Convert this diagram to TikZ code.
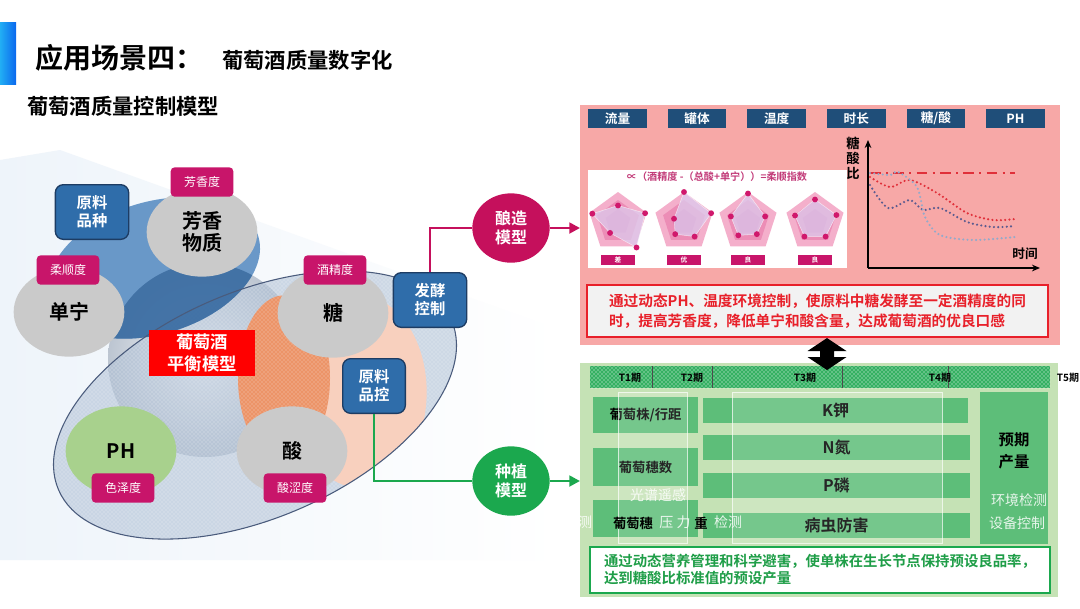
\documentclass[tikz,border=0pt]{standalone}
\usepackage{fontspec}
\setmainfont{Noto Sans CJK SC}[BoldFont={Noto Sans CJK SC Bold}]
\usetikzlibrary{shapes.geometric,patterns,arrows.meta,positioning}

\definecolor{barcyan}{HTML}{22AEF4}
\definecolor{barblue}{HTML}{0A68EE}
\definecolor{wash}{HTML}{EEF4FA}
\definecolor{spheredark}{HTML}{BCC5D1}
\definecolor{ellgray}{HTML}{AFC0D5}
\definecolor{elledge}{HTML}{4A5B7C}
\definecolor{peach}{HTML}{F8D0BE}
\definecolor{orangeball}{HTML}{EC9468}
\definecolor{leafblue}{HTML}{5288C0}
\definecolor{leafdark}{HTML}{2E5E92}
\definecolor{ballgray}{HTML}{CACACA}
\definecolor{greenball}{HTML}{A8D18D}
\definecolor{attrmag}{HTML}{C8156A}
\definecolor{boxblue}{HTML}{2F6DAA}
\definecolor{boxedge}{HTML}{1D3C63}
\definecolor{brewmag}{HTML}{C5105C}
\definecolor{plantgreen}{HTML}{1BA84E}
\definecolor{panelred}{HTML}{F7A8A7}
\definecolor{headblue}{HTML}{1F4E79}
\definecolor{pinka}{HTML}{F4AFCB}
\definecolor{pinkb}{HTML}{EC8DB6}
\definecolor{pinkc}{HTML}{E07BAE}
\definecolor{lavender}{HTML}{DCCBEE}
\definecolor{dotmag}{HTML}{D0186C}
\definecolor{formulapink}{HTML}{C23A78}
\definecolor{curvered}{HTML}{E0303A}
\definecolor{curvepurple}{HTML}{5B5B8F}
\definecolor{curveblue}{HTML}{93AACB}
\definecolor{notered}{HTML}{E8202A}
\definecolor{notebg}{HTML}{F2F2F2}
\definecolor{panelgreen}{HTML}{C5E2B5}
\definecolor{tgreen}{HTML}{35B062}
\definecolor{boxgreen}{HTML}{5DBE79}
\definecolor{notegreen}{HTML}{1F9E48}

\tikzset{
    ball/.style={ellipse,fill=ballgray,inner sep=0pt,minimum width=83pt,minimum height=67pt,align=center,font=\fontsize{15}{17}\selectfont\bfseries},
    attrtag/.style={rounded corners=3pt,fill=attrmag,text=white,minimum width=47pt,minimum height=22pt,inner sep=0pt,font=\fontsize{9}{10}\selectfont},
    bluebox/.style={rounded corners=6pt,draw=boxedge,line width=1pt,fill=boxblue,text=white,align=center,minimum width=55pt,minimum height=41pt,inner sep=0pt,font=\fontsize{11.5}{13.5}\selectfont\bfseries},
    model/.style={ellipse,fill=#1,text=white,align=center,minimum width=58pt,minimum height=52pt,inner sep=0pt,font=\fontsize{12}{14}\selectfont\bfseries},
    link/.style={draw=#1,line width=2pt},
    panel/.style={inner sep=0pt,outer sep=0pt},
    head/.style={fill=headblue,text=white,minimum width=44pt,minimum height=14pt,inner sep=0pt,font=\fontsize{9.5}{10}\selectfont\bfseries},
    grade/.style={fill=attrmag,text=white,minimum width=26pt,minimum height=7.5pt,inner sep=0pt,font=\fontsize{5}{5}\selectfont\bfseries},
    datapoly/.style={fill=lavender,fill opacity=0.75,draw=white,draw opacity=0.6,line width=0.4pt},
    trend/.style={line width=1.8pt,dash pattern=on 0pt off 3.2pt,line cap=round,#1},
    axis/.style={line width=1.2pt,-{Stealth[length=6pt,width=5pt]}},
    note/.style={line width=1.5pt,align=left,inner sep=0pt,font=\fontsize{11}{15}\selectfont\bfseries},
    gbox/.style={fill=boxgreen,inner sep=0pt,font=\fontsize{12}{14}\selectfont\bfseries},
    tlabel/.style={inner sep=0pt,font=\fontsize{7.5}{8}\selectfont\bfseries},
    ghost/.style={text=white,text opacity=0.85,inner sep=0pt,font=\fontsize{10.5}{12}\selectfont},
    strip/.style={fill=white,fill opacity=0.15,draw=white,draw opacity=0.45,line width=0.5pt}
}

\begin{document}
\begin{tikzpicture}[x=0.75pt,y=-0.75pt]
  \useasboundingbox (0,0) rectangle (1080,608);
  \fill[white] (0,0) rectangle (1080,608);

  % Title
  \shade[left color=barcyan,right color=barblue] (0,22) rectangle (16,84);
  \node[anchor=west,inner sep=0pt,font=\fontsize{21}{24}\selectfont\bfseries] (title) at (35,58) {应用场景四：};
  \node[anchor=west,inner sep=0pt,font=\fontsize{16}{18}\selectfont\bfseries] (subtitle) at (222,60) {葡萄酒质量数字化};
  \node[anchor=west,inner sep=0pt,font=\fontsize{16}{18}\selectfont\bfseries] (section) at (27,106) {葡萄酒质量控制模型};

  % Venn background
  \shade[left color=wash,right color=white] (0,160) -- (60,150) -- (560,330) -- (560,560) -- (0,560) -- cycle;
  \shade[inner color=white,outer color=spheredark] (205,360) circle (72.75pt);
  \fill[ellgray,fill opacity=0.6,shift={(255,405)},rotate=23.4,postaction={pattern=crosshatch dots,pattern color=white}] (0,0) ellipse [x radius=160.5pt,y radius=84.75pt];
  \begin{scope}
    \clip[shift={(255,405)},rotate=23.4] (0,0) ellipse [x radius=160.5pt,y radius=84.75pt];
    \fill[peach] (360,392) ellipse [x radius=50pt,y radius=72pt];
  \end{scope}
  \fill[orangeball,postaction={pattern=crosshatch dots,pattern color=peach}] (284,378) ellipse [x radius=34.5pt,y radius=62pt];
  \fill[leafblue,fill opacity=0.85,shift={(154,268)},rotate=17] (0,0) ellipse [x radius=81.75pt,y radius=49.5pt];
  \begin{scope}
    \clip (205,360) circle (72.75pt);
    \fill[leafdark,fill opacity=0.6,shift={(154,268)},rotate=17] (0,0) ellipse [x radius=81.75pt,y radius=49.5pt];
  \end{scope}
  \draw[elledge,line width=0.8pt,shift={(255,405)},rotate=23.4] (0,0) ellipse [x radius=160.5pt,y radius=84.75pt];

  % Factors
  \node[ball] (aroma) at (202,232) {芳香\\物质};
  \node[attrtag] (aromatag) at (202,182) {芳香度};
  \node[ball] (tannin) at (69,312) {单宁};
  \node[attrtag] (tannintag) at (68,270) {柔顺度};
  \node[ball] (sugar) at (333,313) {糖};
  \node[attrtag] (sugartag) at (335,270) {酒精度};
  \node[ball,fill=greenball] (ph) at (121,451) {PH};
  \node[attrtag] (phtag) at (123,488) {色泽度};
  \node[ball] (acid) at (292,451) {酸};
  \node[attrtag] (acidtag) at (295,488) {酸涩度};

  \node[bluebox] (variety) at (92,212) {原料\\品种};
  \node[bluebox,minimum width=47pt] (qc) at (374,386) {原料\\品控};
  \node[bluebox] (ferm) at (430,300) {发酵\\控制};
  \node[fill=red,text=white,align=center,minimum width=80pt,minimum height=35pt,inner sep=0pt,font=\fontsize{13}{16}\selectfont\bfseries] (balance) at (202,353) {葡萄酒\\平衡模型};

  % Panels
  \node[panel,fill=panelred,minimum width=360pt,minimum height=180pt] (redpanel) at (820,225) {};
  \node[panel,fill=panelgreen,minimum width=358.5pt,minimum height=175.5pt] (greenpanel) at (819,480) {};

  % Models and links
  \node[model=brewmag] (brew) at (511,228) {酿造\\模型};
  \node[model=plantgreen] (plant) at (511,481) {种植\\模型};
  \draw[link=brewmag] (ferm.north) |- (brew.west);
  \draw[link=brewmag,-{Triangle[length=8pt,width=8pt]}] (brew.east) -- (brew.east -| redpanel.west);
  \draw[link=plantgreen] (qc.south) |- (plant.west);
  \draw[link=plantgreen,-{Triangle[length=8pt,width=8pt]}] (plant.east) -- (plant.east -| greenpanel.west);

  % Brewing panel
  \foreach \lab [count=\i] in {流量,罐体,温度,时长,糖/酸,PH}
    \node[head] (head\i) at ({617.5+79.6*(\i-1)},118.5) {\lab};

  \node[panel,fill=white,minimum width=194pt,minimum height=73.5pt] (radarpanel) at (717.5,219) {};
  \node[inner sep=0pt,text=formulapink,font=\fontsize{7.6}{8}\selectfont\bfseries] (formula) at (717,177) {∝（酒精度 -（总酸+单宁））=柔顺指数};
  \foreach \cx/\lab/\ra/\rb/\rc/\rd/\re [count=\i] in {618/差/0.55/0.95/1.05/0.45/0.9, 684/优/1.0/0.95/0.6/0.5/0.35, 748/良/0.95/0.6/0.5/0.55/0.6, 815/良/0.75/0.75/0.6/0.6/0.7}{
    \begin{scope}[shift={(\cx,222)}]
      \fill[pinka] (270:30) \foreach \a in {342,54,126,198}{ -- (\a:30)} -- cycle;
      \fill[pinkb] (270:22) \foreach \a in {342,54,126,198}{ -- (\a:22)} -- cycle;
      \fill[pinkc] (270:13) \foreach \a in {342,54,126,198}{ -- (\a:13)} -- cycle;
      \filldraw[datapoly] (270:{30*\ra}) -- (342:{30*\rb}) -- (54:{30*\rc}) -- (126:{30*\rd}) -- (198:{30*\re}) -- cycle;
      \foreach \ang/\f in {270/\ra,342/\rb,54/\rc,126/\rd,198/\re}
        \fill[dotmag] (\ang:{30*\f}) circle (2.2pt);
    \end{scope}
    \node[grade] (grade\i) at (\cx,260) {\lab};
  }

  % Trend chart
  \coordinate (org) at (868,268);
  \coordinate (ytop) at (868,140);
  \coordinate (xend) at (1040,268);
  \draw[axis] (org) -- (ytop);
  \draw[axis] (org) -- (xend);
  \node[align=center,inner sep=0pt,font=\fontsize{10}{11.25}\selectfont\bfseries] (ratio) at (853,158) {糖\\酸\\比};
  \node[inner sep=0pt,font=\fontsize{9.5}{10}\selectfont\bfseries] (timelab) at (1025,254) {时间};
  \draw[curvered,line width=2pt,dash pattern=on 8pt off 4pt on 1.5pt off 4pt] (870,173) -- (1015,173);
  \draw[trend=curvered] plot[smooth] coordinates {(870,177) (890,187) (910,180) (937,193) (967,213) (993,220) (1015,219)};
  \draw[trend=curvepurple] plot[smooth] coordinates {(870,185) (888,208) (910,200) (923,210) (940,208) (967,222) (993,227) (1015,226)};
  \draw[trend=curveblue] plot[smooth] coordinates {(870,173) (890,175) (898,172) (917,187) (925,217) (940,235) (973,240) (1015,237)};

  \node[note,draw=notered,fill=notebg,text=notered,minimum width=345.75pt,minimum height=39pt] (brewnote) at (817.5,311) {通过动态PH、温度环境控制，使原料中糖发酵至一定酒精度的同\\时，提高芳香度，降低单宁和酸含量，达成葡萄酒的优良口感};

  % Planting panel
  \node[panel,fill=tgreen,minimum width=345pt,minimum height=16.5pt,postaction={pattern=crosshatch dots,pattern color=white}] (tbar) at (820,377) {};
  \foreach \x in {652,712,842,948}
    \draw[black!70,line width=0.5pt] (\x,366) -- (\x,388);
  \foreach \x/\t [count=\i] in {630/T1期,692/T2期,805/T3期,940/T4期,1068/T5期}
    \node[tlabel] (t\i) at (\x,378) {\t};

  % Double arrow between the panels
  \fill[black] (827,338) -- (846.5,351) -- (834,351) -- (834,357) -- (846.5,357) -- (827,370)
    -- (807.5,357) -- (820,357) -- (820,351) -- (807.5,351) -- cycle;

  \node[gbox,minimum width=78.75pt,minimum height=27pt,font=\fontsize{10}{12}\selectfont\bfseries] (spacing) at (645.5,415) {葡萄株/行距};
  \node[gbox,minimum width=78.75pt,minimum height=28.5pt,font=\fontsize{10}{12}\selectfont\bfseries] (cluster) at (645.5,467) {葡萄穗数};
  \node[gbox,minimum width=78.75pt,minimum height=28pt] (weight) at (645.5,518.5) {};
  \node[gbox,minimum width=198.75pt,minimum height=18.75pt] (potassium) at (835.5,410.5) {K钾};
  \node[gbox,minimum width=200.25pt,minimum height=18.75pt] (nitrogen) at (836.5,447.5) {N氮};
  \node[gbox,minimum width=200.25pt,minimum height=18.75pt] (phosphor) at (836.5,485.5) {P磷};
  \node[gbox,minimum width=200.25pt,minimum height=18.75pt] (pest) at (836.5,525.5) {病虫防害};
  \node[gbox,minimum width=51pt,minimum height=114pt,align=center,font=\fontsize{11.5}{17}\selectfont\bfseries] (yield) at (1014,468) {预期\\产量\\[10pt]};
  \fill[strip] (618,392) rectangle (687,543);
  \fill[strip] (732,392) rectangle (942,543);
  \draw[strip,fill=none] (618,392) rectangle (687,543);
  \draw[strip,fill=none] (732,392) rectangle (942,543);

  \node[ghost] (spectrum) at (658,495) {光谱遥感};
  \node[ghost] (cutoff) at (585,522) {测};
  \node[inner sep=0pt,font=\fontsize{10}{12}\selectfont\bfseries] (weighta) at (633,523) {葡萄穗};
  \node[ghost] (pressure) at (675,522) {压 力};
  \node[inner sep=0pt,font=\fontsize{10}{12}\selectfont\bfseries] (weightb) at (701,523) {重};
  \node[ghost] (detect) at (728,522) {检测};
  \node[ghost] (envdetect) at (1019,500) {环境检测};
  \node[ghost] (devctrl) at (1017,523) {设备控制};

  \node[note,draw=plantgreen,fill=white,text=notegreen,minimum width=345pt,minimum height=34.5pt,font=\fontsize{10.8}{12.75}\selectfont\bfseries] (plantnote) at (820,570) {通过动态营养管理和科学避害，使单株在生长节点保持预设良品率，\\达到糖酸比标准值的预设产量};
\end{tikzpicture}
\end{document}
